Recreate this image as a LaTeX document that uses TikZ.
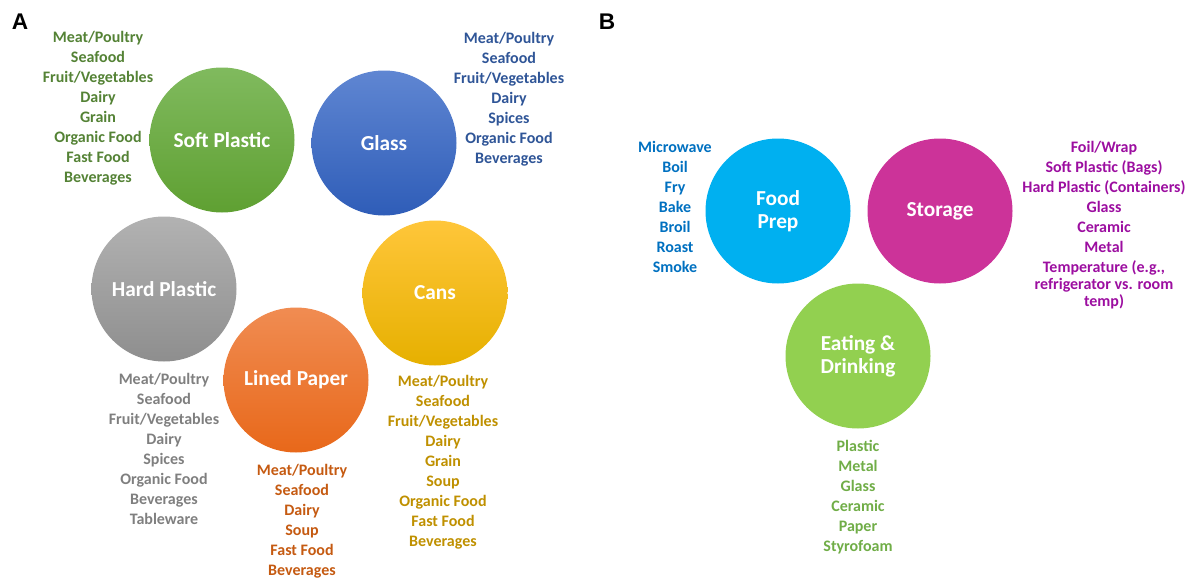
\documentclass[tikz,border=0pt]{standalone}
\usepackage{fontspec}
\setmainfont{Carlito}
\newfontfamily\panelfont{Liberation Sans}
\definecolor{spTop}{HTML}{80BA5E}
\definecolor{spBot}{HTML}{5FA032}
\definecolor{spTxt}{HTML}{548235}
\definecolor{glTop}{HTML}{5F86D2}
\definecolor{glBot}{HTML}{2F5DB8}
\definecolor{glTxt}{HTML}{2F5597}
\definecolor{hpTop}{HTML}{B2B2B2}
\definecolor{hpBot}{HTML}{8E8E8E}
\definecolor{hpTxt}{HTML}{7F7F7F}
\definecolor{lpTop}{HTML}{F08C52}
\definecolor{lpBot}{HTML}{E8681A}
\definecolor{lpTxt}{HTML}{C55A11}
\definecolor{caTop}{HTML}{FFC63A}
\definecolor{caBot}{HTML}{E6B000}
\definecolor{caTxt}{HTML}{BF9000}
\definecolor{fpFill}{HTML}{00B0F0}
\definecolor{fpTxt}{HTML}{0070C0}
\definecolor{stFill}{HTML}{CC3399}
\definecolor{stTxt}{HTML}{9C0EA0}
\definecolor{edFill}{HTML}{92D050}
\definecolor{edTxt}{HTML}{70AD47}
\begin{document}
\begin{tikzpicture}[x=0.75pt,y=-0.75pt,
  bubble/.style={circle, minimum size=108.75pt, inner sep=0pt, text=white,
    font=\bfseries\fontsize{16}{17}\selectfont, align=center},
  itemlist/.style={font=\bfseries\fontsize{12}{15}\selectfont, align=center, inner sep=0pt},
  panel/.style={font=\panelfont\bfseries\fontsize{17}{20}\selectfont, inner sep=0pt}]
\useasboundingbox (0,0) rectangle (1186,578);
% panel labels
\node[panel] (pA) at (20,22) {A};
\node[panel] (pB) at (607,22) {B};
% Panel A bubbles
\node[bubble, top color=spTop, bottom color=spBot] (soft) at (222,140) {\raisebox{0.75pt}{Soft Plastic}};
\node[bubble, top color=glTop, bottom color=glBot] (glass) at (384,143) {Glass};
\node[bubble, top color=hpTop, bottom color=hpBot] (hard) at (164,289) {\raisebox{0.75pt}{Hard Plastic}};
\node[bubble, top color=caTop, bottom color=caBot] (cans) at (435,293) {\raisebox{-0.75pt}{Cans}};
\node[bubble, top color=lpTop, bottom color=lpBot] (paper) at (296,380) {\raisebox{-0.75pt}{Lined Paper}};
% Panel A lists
\node[itemlist, text=spTxt] (softlist) at (98,108.5) {Meat/Poultry\\Seafood\\Fruit/Vegetables\\Dairy\\Grain\\Organic Food\\Fast Food\\Beverages};
\node[itemlist, text=glTxt] (glasslist) at (509,99) {Meat/Poultry\\Seafood\\Fruit/Vegetables\\Dairy\\Spices\\Organic Food\\Beverages};
\node[itemlist, text=hpTxt] (hardlist) at (164,448.5) {Meat/Poultry\\Seafood\\Fruit/Vegetables\\Dairy\\Spices\\Organic Food\\Beverages\\Tableware};
\node[itemlist, text=lpTxt] (paperlist) at (302,521.5) {Meat/Poultry\\Seafood\\Dairy\\Soup\\Fast Food\\Beverages};
\node[itemlist, text=caTxt] (canslist) at (443,462.5) {Meat/Poultry\\Seafood\\Fruit/Vegetables\\Dairy\\Grain\\Soup\\Organic Food\\Fast Food\\Beverages};
% Panel B bubbles
\node[bubble, fill=fpFill] (prep) at (778,211) {Food\\Prep};
\node[bubble, fill=stFill] (store) at (940,211) {Storage};
\node[bubble, fill=edFill] (eat) at (858,356) {Eating \&\\Drinking};
% Panel B lists
\node[itemlist, text=fpTxt] (preplist) at (675,207) {Microwave\\Boil\\Fry\\Bake\\Broil\\Roast\\Smoke};
\node[itemlist, text=stTxt] (storelist) at (1104,225) {Foil/Wrap\\Soft Plastic (Bags)\\Hard Plastic (Containers)\\Glass\\Ceramic\\Metal\\Temperature (e.g.,\\[-2.25pt]refrigerator vs. room\\[-2.25pt]temp)};
\node[itemlist, text=edTxt] (eatlist) at (858,497) {Plastic\\Metal\\Glass\\Ceramic\\Paper\\Styrofoam};
\end{tikzpicture}
\end{document}
